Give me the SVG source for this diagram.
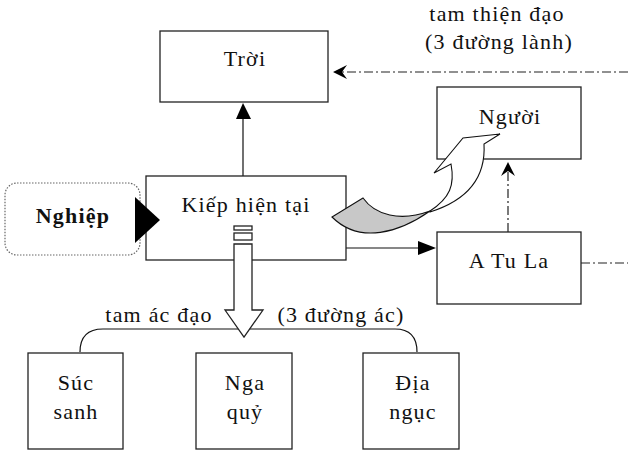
<svg xmlns="http://www.w3.org/2000/svg" width="628" height="451" viewBox="0 0 628 451">
<style>
.box{fill:#fff;stroke:#222;stroke-width:1.3}
.t{font-family:"Liberation Serif","Times New Roman",serif;font-size:22px;letter-spacing:1.2px;fill:#111;text-anchor:middle}
.b{font-weight:bold}
.ln{fill:none;stroke:#111;stroke-width:1.2}
.dd{fill:none;stroke:#222;stroke-width:1.2;stroke-dasharray:9,3,2,3}
.ah{fill:#000;stroke:none}
</style>
<rect width="628" height="451" fill="#fff"/>
<g id="connectors">
  <line class="ln" x1="243" y1="176" x2="243" y2="110"/>
  <polygon class="ah" points="243,103 251,119 236,119"/>
  <line class="ln" x1="346" y1="248" x2="425" y2="248"/>
  <polygon class="ah" points="436,248 418,241 418,255"/>
  <line class="dd" x1="628" y1="72" x2="336" y2="72"/>
  <polygon class="ah" points="333,72 347,65 342,72 347,79"/>
  <line class="dd" x1="508" y1="232" x2="508" y2="166"/>
  <polygon class="ah" points="508,162 515,176 508,171 501,176"/>
  <line class="dd" x1="581" y1="263" x2="628" y2="263"/>
  <path class="ln" d="M80,352 Q80,329 103,329 L395,329 Q417,329 417,352"/>
</g>
<g id="troi"><rect class="box" x="160" y="31" width="168" height="71"/><text class="t" x="245" y="66">Trời</text></g>
<g id="nguoi"><rect class="box" x="437" y="87" width="144" height="72"/><text class="t" x="510" y="124">Người</text></g>
<g id="atula"><rect class="box" x="437" y="232" width="144" height="72"/><text class="t" x="509" y="268">A Tu La</text></g>
<g id="kiep"><rect class="box" x="146" y="176" width="200" height="84"/><text class="t" x="246" y="212">Kiếp hiện tại</text></g>
<g id="nghiep"><rect x="5" y="183" width="135" height="72" rx="12" fill="#fff" stroke="#666" stroke-width="1.2" stroke-dasharray="1.5,1.5"/><text class="t b" x="73" y="223">Nghiệp</text>
  <polygon class="ah" points="160,220 135,197 135,243"/></g>
<g id="label-thien"><text class="t" x="497" y="21">tam thiện đạo</text><text class="t" x="499" y="49">(3 đường lành)</text></g>
<g id="label-ac"><text class="t" x="159" y="322">tam ác đạo</text><text class="t" x="341" y="322">(3 đường ác)</text></g>
<g id="down-arrow">
  <rect class="box" x="234" y="226" width="18" height="4"/>
  <rect class="box" x="234" y="233" width="18" height="7"/>
  <path class="box" d="M234,244 H252 V310 H263 L244,337 L225,310 H234 Z"/>
</g>
<g id="curved-arrow">
  <path d="M430,211 C450,198 455,185 451,164 L434,173 L463,138 L500,134 L484,144 C486,178 468,200 430,212 Z" fill="#fff" stroke="#111" stroke-width="1.1"/>
  <path d="M332,217 L363,198 C375,215 400,222 430,211 C400,232 360,245 332,217 Z" fill="#c8c8c8" stroke="#111" stroke-width="1.1"/>
</g>
<g id="suc"><rect class="box" x="28" y="353" width="95" height="96"/><text class="t" x="76" y="390">Súc</text><text class="t" x="76" y="419">sanh</text></g>
<g id="nga"><rect class="box" x="196" y="353" width="96" height="96"/><text class="t" x="245" y="390">Nga</text><text class="t" x="245" y="419">quỷ</text></g>
<g id="dia"><rect class="box" x="363" y="353" width="96" height="96"/><text class="t" x="413" y="390">Địa</text><text class="t" x="413" y="419">ngục</text></g>
</svg>
